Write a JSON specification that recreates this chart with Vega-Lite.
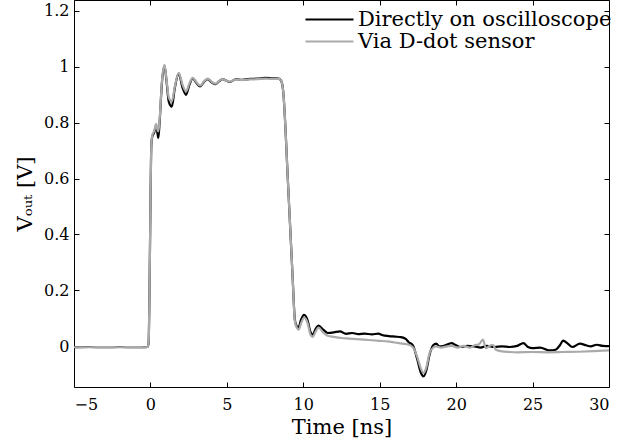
{
  "$schema": "https://vega.github.io/schema/vega-lite/v6.json",
  "width": 535,
  "height": 387,
  "autosize": "none",
  "padding": {"left": 74, "top": 0, "right": 32, "bottom": 59},
  "background": "white",
  "config": {
    "view": {"stroke": null},
    "font": "DejaVu Serif",
    "axis": {
      "domainColor": "black", "tickColor": "black", "labelColor": "black", "titleColor": "black",
      "labelFont": "DejaVu Serif", "titleFont": "DejaVu Serif", "labelFontSize": 16, "titleFontSize": 21,
      "titleFontWeight": "normal", "grid": false, "tickSize": -5, "domainWidth": 1, "tickWidth": 1
    },
    "legend": {"labelFont": "DejaVu Serif", "labelFontSize": 21, "labelColor": "black"}
  },
  "datasets": {
    "traces": [
      {"series": "Directly on oscilloscope", "t": -5, "v": -0.003},
      {"series": "Directly on oscilloscope", "t": -4, "v": -0.002},
      {"series": "Directly on oscilloscope", "t": -3, "v": -0.003},
      {"series": "Directly on oscilloscope", "t": -2, "v": -0.002},
      {"series": "Directly on oscilloscope", "t": -1, "v": -0.003},
      {"series": "Directly on oscilloscope", "t": -0.4, "v": -0.003},
      {"series": "Directly on oscilloscope", "t": -0.2, "v": -0.002},
      {"series": "Directly on oscilloscope", "t": -0.12, "v": 0.01},
      {"series": "Directly on oscilloscope", "t": -0.06, "v": 0.2},
      {"series": "Directly on oscilloscope", "t": 0.0, "v": 0.5},
      {"series": "Directly on oscilloscope", "t": 0.06, "v": 0.72},
      {"series": "Directly on oscilloscope", "t": 0.12, "v": 0.75},
      {"series": "Directly on oscilloscope", "t": 0.25, "v": 0.765},
      {"series": "Directly on oscilloscope", "t": 0.37, "v": 0.79},
      {"series": "Directly on oscilloscope", "t": 0.45, "v": 0.765},
      {"series": "Directly on oscilloscope", "t": 0.52, "v": 0.745},
      {"series": "Directly on oscilloscope", "t": 0.6, "v": 0.8},
      {"series": "Directly on oscilloscope", "t": 0.75, "v": 0.94},
      {"series": "Directly on oscilloscope", "t": 0.92, "v": 1.003},
      {"series": "Directly on oscilloscope", "t": 1.05, "v": 0.95},
      {"series": "Directly on oscilloscope", "t": 1.2, "v": 0.875},
      {"series": "Directly on oscilloscope", "t": 1.4, "v": 0.857},
      {"series": "Directly on oscilloscope", "t": 1.6, "v": 0.925},
      {"series": "Directly on oscilloscope", "t": 1.85, "v": 0.975},
      {"series": "Directly on oscilloscope", "t": 2.1, "v": 0.925},
      {"series": "Directly on oscilloscope", "t": 2.33, "v": 0.899},
      {"series": "Directly on oscilloscope", "t": 2.55, "v": 0.935},
      {"series": "Directly on oscilloscope", "t": 2.77, "v": 0.958},
      {"series": "Directly on oscilloscope", "t": 3.0, "v": 0.942},
      {"series": "Directly on oscilloscope", "t": 3.25, "v": 0.929},
      {"series": "Directly on oscilloscope", "t": 3.5, "v": 0.945},
      {"series": "Directly on oscilloscope", "t": 3.75, "v": 0.955},
      {"series": "Directly on oscilloscope", "t": 4.0, "v": 0.944},
      {"series": "Directly on oscilloscope", "t": 4.25, "v": 0.937},
      {"series": "Directly on oscilloscope", "t": 4.5, "v": 0.948},
      {"series": "Directly on oscilloscope", "t": 4.73, "v": 0.955},
      {"series": "Directly on oscilloscope", "t": 4.95, "v": 0.95},
      {"series": "Directly on oscilloscope", "t": 5.17, "v": 0.945},
      {"series": "Directly on oscilloscope", "t": 5.6, "v": 0.955},
      {"series": "Directly on oscilloscope", "t": 6.0, "v": 0.953},
      {"series": "Directly on oscilloscope", "t": 6.5, "v": 0.956},
      {"series": "Directly on oscilloscope", "t": 7.0, "v": 0.957},
      {"series": "Directly on oscilloscope", "t": 7.5, "v": 0.96},
      {"series": "Directly on oscilloscope", "t": 8.0, "v": 0.958},
      {"series": "Directly on oscilloscope", "t": 8.4, "v": 0.957},
      {"series": "Directly on oscilloscope", "t": 8.55, "v": 0.95},
      {"series": "Directly on oscilloscope", "t": 8.68, "v": 0.915},
      {"series": "Directly on oscilloscope", "t": 9.0, "v": 0.585},
      {"series": "Directly on oscilloscope", "t": 9.3, "v": 0.25},
      {"series": "Directly on oscilloscope", "t": 9.45, "v": 0.095},
      {"series": "Directly on oscilloscope", "t": 9.55, "v": 0.075},
      {"series": "Directly on oscilloscope", "t": 9.68, "v": 0.067},
      {"series": "Directly on oscilloscope", "t": 9.85, "v": 0.095},
      {"series": "Directly on oscilloscope", "t": 10.05, "v": 0.113},
      {"series": "Directly on oscilloscope", "t": 10.3, "v": 0.09},
      {"series": "Directly on oscilloscope", "t": 10.45, "v": 0.055},
      {"series": "Directly on oscilloscope", "t": 10.62, "v": 0.042},
      {"series": "Directly on oscilloscope", "t": 10.8, "v": 0.062},
      {"series": "Directly on oscilloscope", "t": 11.0, "v": 0.074},
      {"series": "Directly on oscilloscope", "t": 11.3, "v": 0.06},
      {"series": "Directly on oscilloscope", "t": 11.6, "v": 0.048},
      {"series": "Directly on oscilloscope", "t": 12.0, "v": 0.05},
      {"series": "Directly on oscilloscope", "t": 12.4, "v": 0.054},
      {"series": "Directly on oscilloscope", "t": 12.8, "v": 0.045},
      {"series": "Directly on oscilloscope", "t": 13.2, "v": 0.048},
      {"series": "Directly on oscilloscope", "t": 13.6, "v": 0.044},
      {"series": "Directly on oscilloscope", "t": 14.0, "v": 0.046},
      {"series": "Directly on oscilloscope", "t": 14.5, "v": 0.043},
      {"series": "Directly on oscilloscope", "t": 14.9, "v": 0.046},
      {"series": "Directly on oscilloscope", "t": 15.2, "v": 0.04},
      {"series": "Directly on oscilloscope", "t": 15.6, "v": 0.037},
      {"series": "Directly on oscilloscope", "t": 16.0, "v": 0.035},
      {"series": "Directly on oscilloscope", "t": 16.4, "v": 0.033},
      {"series": "Directly on oscilloscope", "t": 16.7, "v": 0.027},
      {"series": "Directly on oscilloscope", "t": 16.9, "v": 0.015},
      {"series": "Directly on oscilloscope", "t": 17.17, "v": 0.004},
      {"series": "Directly on oscilloscope", "t": 17.45, "v": -0.045},
      {"series": "Directly on oscilloscope", "t": 17.7, "v": -0.095},
      {"series": "Directly on oscilloscope", "t": 17.87, "v": -0.107},
      {"series": "Directly on oscilloscope", "t": 18.05, "v": -0.085},
      {"series": "Directly on oscilloscope", "t": 18.26, "v": -0.03},
      {"series": "Directly on oscilloscope", "t": 18.5, "v": 0.004},
      {"series": "Directly on oscilloscope", "t": 18.7, "v": 0.01},
      {"series": "Directly on oscilloscope", "t": 18.9, "v": 0.0},
      {"series": "Directly on oscilloscope", "t": 19.2, "v": 0.002},
      {"series": "Directly on oscilloscope", "t": 19.7, "v": 0.012},
      {"series": "Directly on oscilloscope", "t": 20.0, "v": 0.004},
      {"series": "Directly on oscilloscope", "t": 20.3, "v": -0.002},
      {"series": "Directly on oscilloscope", "t": 20.7, "v": 0.002},
      {"series": "Directly on oscilloscope", "t": 21.2, "v": 0.0},
      {"series": "Directly on oscilloscope", "t": 21.6, "v": -0.004},
      {"series": "Directly on oscilloscope", "t": 22.0, "v": 0.002},
      {"series": "Directly on oscilloscope", "t": 22.5, "v": -0.002},
      {"series": "Directly on oscilloscope", "t": 23.0, "v": 0.0},
      {"series": "Directly on oscilloscope", "t": 23.5, "v": -0.002},
      {"series": "Directly on oscilloscope", "t": 24.0, "v": 0.002},
      {"series": "Directly on oscilloscope", "t": 24.4, "v": 0.012},
      {"series": "Directly on oscilloscope", "t": 24.7, "v": -0.002},
      {"series": "Directly on oscilloscope", "t": 25.0, "v": -0.006},
      {"series": "Directly on oscilloscope", "t": 25.5, "v": -0.004},
      {"series": "Directly on oscilloscope", "t": 26.1, "v": -0.014},
      {"series": "Directly on oscilloscope", "t": 26.5, "v": -0.012},
      {"series": "Directly on oscilloscope", "t": 26.8, "v": 0.005},
      {"series": "Directly on oscilloscope", "t": 27.0, "v": 0.021},
      {"series": "Directly on oscilloscope", "t": 27.3, "v": 0.01},
      {"series": "Directly on oscilloscope", "t": 27.6, "v": -0.002},
      {"series": "Directly on oscilloscope", "t": 28.1, "v": 0.01},
      {"series": "Directly on oscilloscope", "t": 28.5, "v": 0.004},
      {"series": "Directly on oscilloscope", "t": 28.8, "v": 0.0},
      {"series": "Directly on oscilloscope", "t": 29.2, "v": 0.006},
      {"series": "Directly on oscilloscope", "t": 29.6, "v": 0.002},
      {"series": "Directly on oscilloscope", "t": 30, "v": 0.001},
      {"series": "Via D-dot sensor", "t": -5, "v": -0.003},
      {"series": "Via D-dot sensor", "t": -4, "v": -0.003},
      {"series": "Via D-dot sensor", "t": -3, "v": -0.002},
      {"series": "Via D-dot sensor", "t": -2, "v": -0.003},
      {"series": "Via D-dot sensor", "t": -1, "v": -0.002},
      {"series": "Via D-dot sensor", "t": -0.4, "v": -0.003},
      {"series": "Via D-dot sensor", "t": -0.2, "v": -0.002},
      {"series": "Via D-dot sensor", "t": -0.12, "v": 0.01},
      {"series": "Via D-dot sensor", "t": -0.06, "v": 0.2},
      {"series": "Via D-dot sensor", "t": 0.0, "v": 0.5},
      {"series": "Via D-dot sensor", "t": 0.06, "v": 0.72},
      {"series": "Via D-dot sensor", "t": 0.12, "v": 0.755},
      {"series": "Via D-dot sensor", "t": 0.25, "v": 0.77},
      {"series": "Via D-dot sensor", "t": 0.37, "v": 0.795},
      {"series": "Via D-dot sensor", "t": 0.45, "v": 0.775},
      {"series": "Via D-dot sensor", "t": 0.52, "v": 0.768},
      {"series": "Via D-dot sensor", "t": 0.6, "v": 0.81},
      {"series": "Via D-dot sensor", "t": 0.75, "v": 0.945},
      {"series": "Via D-dot sensor", "t": 0.92, "v": 1.006},
      {"series": "Via D-dot sensor", "t": 1.05, "v": 0.955},
      {"series": "Via D-dot sensor", "t": 1.2, "v": 0.89},
      {"series": "Via D-dot sensor", "t": 1.4, "v": 0.875},
      {"series": "Via D-dot sensor", "t": 1.6, "v": 0.93},
      {"series": "Via D-dot sensor", "t": 1.85, "v": 0.978},
      {"series": "Via D-dot sensor", "t": 2.1, "v": 0.935},
      {"series": "Via D-dot sensor", "t": 2.33, "v": 0.911},
      {"series": "Via D-dot sensor", "t": 2.55, "v": 0.94},
      {"series": "Via D-dot sensor", "t": 2.77, "v": 0.96},
      {"series": "Via D-dot sensor", "t": 3.0, "v": 0.945},
      {"series": "Via D-dot sensor", "t": 3.25, "v": 0.932},
      {"series": "Via D-dot sensor", "t": 3.5, "v": 0.947},
      {"series": "Via D-dot sensor", "t": 3.75, "v": 0.957},
      {"series": "Via D-dot sensor", "t": 4.0, "v": 0.946},
      {"series": "Via D-dot sensor", "t": 4.25, "v": 0.939},
      {"series": "Via D-dot sensor", "t": 4.5, "v": 0.949},
      {"series": "Via D-dot sensor", "t": 4.73, "v": 0.955},
      {"series": "Via D-dot sensor", "t": 4.95, "v": 0.95},
      {"series": "Via D-dot sensor", "t": 5.17, "v": 0.946},
      {"series": "Via D-dot sensor", "t": 5.6, "v": 0.954},
      {"series": "Via D-dot sensor", "t": 6.0, "v": 0.952},
      {"series": "Via D-dot sensor", "t": 6.5, "v": 0.954},
      {"series": "Via D-dot sensor", "t": 7.0, "v": 0.955},
      {"series": "Via D-dot sensor", "t": 7.5, "v": 0.957},
      {"series": "Via D-dot sensor", "t": 8.0, "v": 0.956},
      {"series": "Via D-dot sensor", "t": 8.4, "v": 0.956},
      {"series": "Via D-dot sensor", "t": 8.55, "v": 0.95},
      {"series": "Via D-dot sensor", "t": 8.68, "v": 0.915},
      {"series": "Via D-dot sensor", "t": 9.0, "v": 0.585},
      {"series": "Via D-dot sensor", "t": 9.3, "v": 0.25},
      {"series": "Via D-dot sensor", "t": 9.45, "v": 0.09},
      {"series": "Via D-dot sensor", "t": 9.55, "v": 0.07},
      {"series": "Via D-dot sensor", "t": 9.7, "v": 0.06},
      {"series": "Via D-dot sensor", "t": 9.85, "v": 0.082},
      {"series": "Via D-dot sensor", "t": 10.05, "v": 0.103},
      {"series": "Via D-dot sensor", "t": 10.3, "v": 0.08},
      {"series": "Via D-dot sensor", "t": 10.45, "v": 0.045},
      {"series": "Via D-dot sensor", "t": 10.62, "v": 0.034},
      {"series": "Via D-dot sensor", "t": 10.8, "v": 0.052},
      {"series": "Via D-dot sensor", "t": 11.0, "v": 0.067},
      {"series": "Via D-dot sensor", "t": 11.3, "v": 0.05},
      {"series": "Via D-dot sensor", "t": 11.6, "v": 0.038},
      {"series": "Via D-dot sensor", "t": 12.0, "v": 0.034},
      {"series": "Via D-dot sensor", "t": 12.5, "v": 0.03},
      {"series": "Via D-dot sensor", "t": 13.0, "v": 0.028},
      {"series": "Via D-dot sensor", "t": 13.5, "v": 0.026},
      {"series": "Via D-dot sensor", "t": 14.0, "v": 0.024},
      {"series": "Via D-dot sensor", "t": 14.5, "v": 0.022},
      {"series": "Via D-dot sensor", "t": 15.0, "v": 0.02},
      {"series": "Via D-dot sensor", "t": 15.5, "v": 0.018},
      {"series": "Via D-dot sensor", "t": 16.0, "v": 0.014},
      {"series": "Via D-dot sensor", "t": 16.5, "v": 0.01},
      {"series": "Via D-dot sensor", "t": 16.9, "v": 0.006},
      {"series": "Via D-dot sensor", "t": 17.2, "v": -0.005},
      {"series": "Via D-dot sensor", "t": 17.5, "v": -0.045},
      {"series": "Via D-dot sensor", "t": 17.7, "v": -0.08},
      {"series": "Via D-dot sensor", "t": 17.87, "v": -0.095},
      {"series": "Via D-dot sensor", "t": 18.05, "v": -0.075},
      {"series": "Via D-dot sensor", "t": 18.26, "v": -0.024},
      {"series": "Via D-dot sensor", "t": 18.5, "v": -0.004},
      {"series": "Via D-dot sensor", "t": 18.7, "v": 0.0},
      {"series": "Via D-dot sensor", "t": 19.0, "v": -0.004},
      {"series": "Via D-dot sensor", "t": 19.4, "v": 0.0},
      {"series": "Via D-dot sensor", "t": 19.7, "v": 0.002},
      {"series": "Via D-dot sensor", "t": 20.1, "v": -0.004},
      {"series": "Via D-dot sensor", "t": 20.5, "v": 0.002},
      {"series": "Via D-dot sensor", "t": 20.9, "v": -0.004},
      {"series": "Via D-dot sensor", "t": 21.2, "v": 0.004},
      {"series": "Via D-dot sensor", "t": 21.5, "v": 0.008},
      {"series": "Via D-dot sensor", "t": 21.75, "v": 0.024},
      {"series": "Via D-dot sensor", "t": 21.95, "v": -0.006},
      {"series": "Via D-dot sensor", "t": 22.2, "v": 0.002},
      {"series": "Via D-dot sensor", "t": 22.4, "v": 0.006},
      {"series": "Via D-dot sensor", "t": 22.6, "v": -0.012},
      {"series": "Via D-dot sensor", "t": 23.0, "v": -0.018},
      {"series": "Via D-dot sensor", "t": 23.5, "v": -0.02},
      {"series": "Via D-dot sensor", "t": 24.0, "v": -0.021},
      {"series": "Via D-dot sensor", "t": 25.0, "v": -0.02},
      {"series": "Via D-dot sensor", "t": 26.0, "v": -0.021},
      {"series": "Via D-dot sensor", "t": 27.0, "v": -0.02},
      {"series": "Via D-dot sensor", "t": 28.0, "v": -0.019},
      {"series": "Via D-dot sensor", "t": 29.0, "v": -0.017},
      {"series": "Via D-dot sensor", "t": 30.0, "v": -0.014}
    ]
  },
  "data": {"name": "traces"},
  "layer": [
    {
      "mark": {"type": "line", "strokeWidth": 2.2, "interpolate": "monotone"},
      "encoding": {
        "x": {"field": "t", "type": "quantitative", "scale": {"domain": [-5, 30], "nice": false, "zero": false},
              "axis": {"orient": "bottom", "values": [-5, 0, 5, 10, 15, 20, 25, 30], "title": "Time [ns]", "labelPadding": 14, "titlePadding": 4}},
        "y": {"field": "v", "type": "quantitative", "scale": {"domain": [-0.145, 1.238], "nice": false, "zero": false},
              "axis": {"orient": "left", "values": [0, 0.2, 0.4, 0.6, 0.8, 1, 1.2], "format": ".1~f", "title": "Vₒᵤₜ [V]", "labelPadding": 10, "titlePadding": 8}},
        "color": {"field": "series", "type": "nominal",
                  "scale": {"domain": ["Directly on oscilloscope", "Via D-dot sensor"], "range": ["#000000", "#aaaaaa"]},
                  "legend": {"title": null, "orient": "none", "legendX": 230, "legendY": 9, "symbolType": "stroke", "symbolSize": 2304, "symbolStrokeWidth": 2.2, "labelOffset": 3, "labelLimit": 400, "clipHeight": 21, "rowPadding": 0}},
        "order": {"field": "series"}
      }
    },
    {
      "mark": {"type": "point", "opacity": 0},
      "encoding": {
        "x": {"field": "t", "type": "quantitative", "scale": {"domain": [-5, 30], "nice": false, "zero": false},
              "axis": {"orient": "top", "values": [-5, 0, 5, 10, 15, 20, 25, 30], "labels": false, "title": null}},
        "y": {"field": "v", "type": "quantitative", "scale": {"domain": [-0.145, 1.238], "nice": false, "zero": false},
              "axis": {"orient": "right", "values": [0, 0.2, 0.4, 0.6, 0.8, 1, 1.2], "labels": false, "title": null}}
      }
    }
  ],
  "resolve": {"scale": {"x": "independent", "y": "independent"}, "axis": {"x": "independent", "y": "independent"}}
}
